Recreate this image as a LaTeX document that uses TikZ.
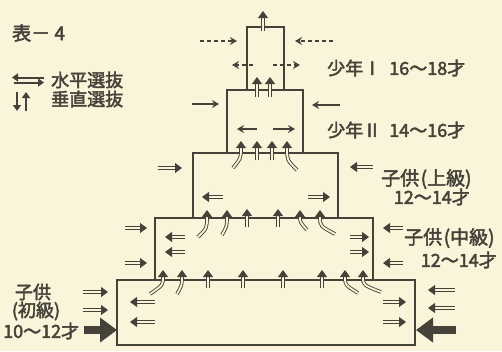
\documentclass[tikz,border=0pt]{standalone}
\usepackage{fontspec}
\setmainfont{Noto Sans CJK JP}[FakeBold=2.5]
\usetikzlibrary{arrows.meta, calc}
\definecolor{paper}{HTML}{FAF4DA}
\definecolor{ink}{HTML}{45423A}
\newcommand{\kpar}[1]{\kern1.5pt(#1)\kern0.5pt}

\begin{document}
\begin{tikzpicture}[x=1pt,y=-1pt,
    every node/.style={text=ink,inner sep=0pt,
      font=\fontsize{18}{20}\selectfont},
    wall/.style={draw=ink,line width=1.3pt},
    sel/.style={draw=ink,line width=0.9pt,double=paper,
      double distance=1.8pt,-{Triangle[length=7pt,width=10pt]}},
    thinarr/.style={draw=ink,line width=1.4pt,
      -{Stealth[length=7pt,width=8pt]}},
    dasharr/.style={thinarr,dash pattern=on 4pt off 3pt},
    bigarr/.style={draw=ink,line width=8pt,
      -{Triangle[length=17pt,width=24pt]}},
    keyarr/.style={draw=ink,line width=2pt,
      -{Triangle[length=6pt,width=8pt]}}]
  \fill[paper] (0,0) rectangle (502,351);
  \useasboundingbox (0,0) rectangle (502,351);

  % the five stages
  \foreach \l/\t/\r/\b in {247/27/284/90, 227/90/303/153,
      193/153/338/218, 155/218/373/280, 117/280/415/345}
    \draw[wall] (\l,\t) rectangle (\r,\b);

  % title and key
  \node[anchor=west,font=\fontsize{19}{20}\selectfont] (title)
    at (12,33) {表－ 4};
  \coordinate (kh) at (12,80);
  \draw[keyarr] ($(kh)+(32,-2.5)$) -- ($(kh)+(0,-2.5)$);
  \draw[keyarr] ($(kh)+(2,2.5)$) -- ($(kh)+(32,2.5)$);
  \node[anchor=west] (hlab) at (51,80) {水平選抜};
  \coordinate (kv) at (17,92);
  \draw[keyarr] (kv) -- ($(kv)+(0,19)$);
  \draw[keyarr] ($(kv)+(9,19)$) -- ($(kv)+(9,0)$);
  \node[anchor=west] (vlab) at (51,99) {垂直選抜};

  % labels
  \node[anchor=west] (boy1) at (327,68) {少年Ⅰ\ \ 16〜18才};
  \node[anchor=west] (boy2) at (327,130) {少年Ⅱ\ \ 14〜16才};
  \node[anchor=west,font=\fontsize{19}{20}\selectfont] (kid3)
    at (381,179) {子供\kpar{上級}};
  \node[anchor=east] (age3) at (470,197) {12〜14才};
  \node[anchor=west,font=\fontsize{19}{20}\selectfont] (kid4)
    at (404,238) {子供\kpar{中級}};
  \node[anchor=east] (age4) at (497,260) {12〜14才};
  \node (kid5) at (33,292) {子供};
  \node (cls5) at (36,311) {(初級)};
  \node[anchor=west] (age5) at (3,331) {10〜12才};

  % stage 1
  \draw[sel] (263,31) -- (263,11);
  \draw[dasharr] (200,41) -- (237,41);
  \draw[dasharr] (333,41) -- (295,41);
  \draw[dasharr] (253,65) -- (232,65);
  \draw[dasharr] (273,65) -- (300,65);
  \foreach \x in {257,270}
    \draw[sel] (\x,97) -- (\x,77);

  % stage 2
  \draw[thinarr] (192,104) -- (219,104);
  \draw[thinarr] (340,105) -- (312,105);
  \draw[thinarr] (257,129) -- (237,129);
  \draw[thinarr] (273,129) -- (295,129);
  \draw[sel] (233,168) .. controls (241,158) .. (241,141);
  \foreach \x in {257,272}
    \draw[sel] (\x,160) -- (\x,141);
  \draw[sel] (297,170) .. controls (287,160) .. (287,141);

  % stage 3
  \draw[sel] (158,168) -- (182,168);
  \draw[sel] (373,167) -- (350,167);
  \draw[sel] (223,197) -- (202,197);
  \draw[sel] (308,197) -- (330,197);
  \draw[sel] (198,237) .. controls (207,228) .. (207,210);
  \draw[sel] (222,235) .. controls (227,226) .. (227,210);
  \foreach \x in {247,278}
    \draw[sel] (\x,227) -- (\x,209);
  \draw[sel] (307,230) .. controls (300,222) .. (300,210);
  \draw[sel] (335,234) .. controls (320,226) .. (320,210);

  % stage 4
  \foreach \y in {228,263} {
    \draw[sel] (125,\y) -- (147,\y);
    \draw[sel] (403,\y) -- (383,\y);
  }
  \foreach \y in {237,252} {
    \draw[sel] (185,\y) -- (165,\y);
    \draw[sel] (350,\y) -- (369,\y);
  }
  \draw[sel] (150,294) .. controls (163,285) .. (163,270);
  \draw[sel] (177,294) .. controls (182,285) .. (182,270);
  \foreach \x in {208,243,283,322}
    \draw[sel] (\x,288) -- (\x,270);
  \draw[sel] (358,293) .. controls (345,285) .. (345,270);
  \draw[sel] (381,292) .. controls (363,285) .. (363,270);

  % stage 5
  \foreach \y in {292,310}
    \draw[sel] (83,\y) -- (108,\y);
  \foreach \y in {290,308}
    \draw[sel] (455,\y) -- (428,\y);
  \foreach \y in {302,322} {
    \draw[sel] (155,\y) -- (130,\y);
    \draw[sel] (383,\y) -- (406,\y);
  }
  \draw[bigarr] (84,330) -- (117,330);
  \draw[bigarr] (456,330) -- (416,330);
\end{tikzpicture}
\end{document}
